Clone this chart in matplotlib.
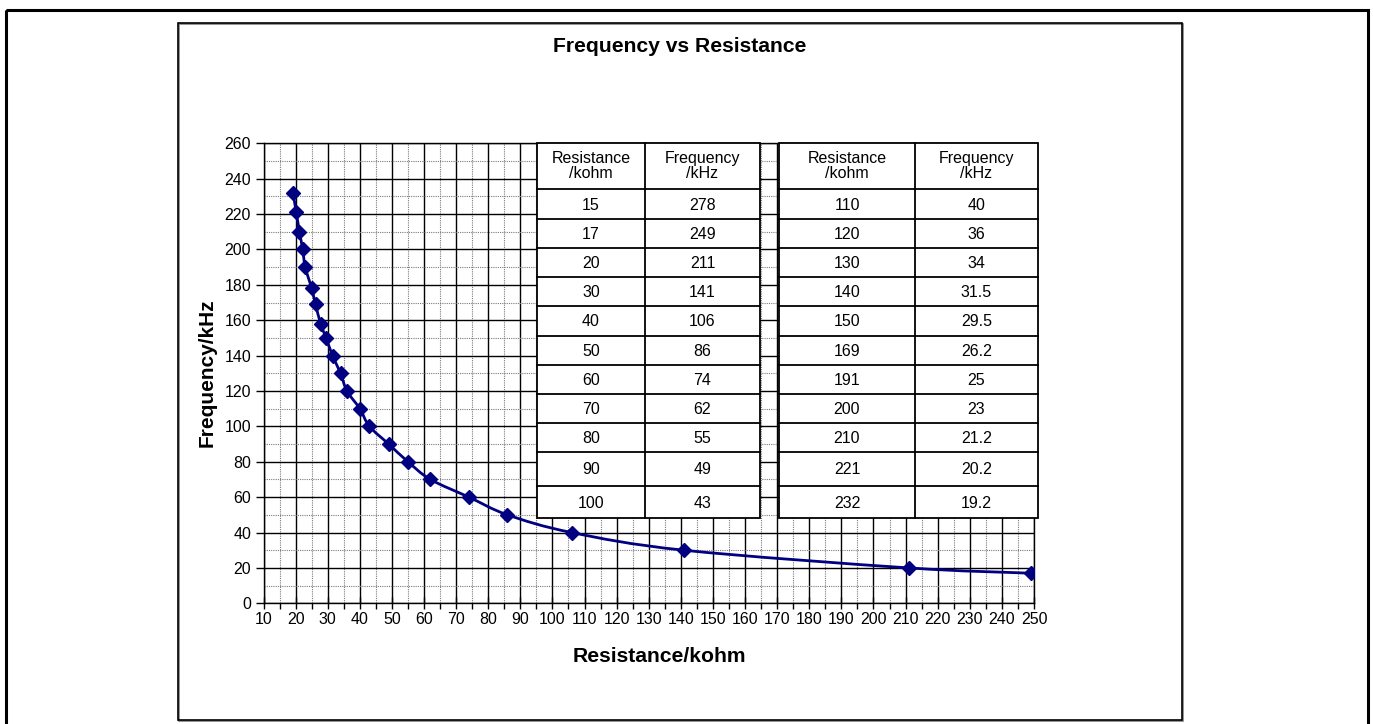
"""
Frequency vs Resistance chart with two data tables drawn over the plot.
"""
import matplotlib
matplotlib.use('Agg')
import matplotlib.pyplot as plt
import matplotlib.patches as mpatches
from matplotlib.path import Path
import numpy as np

plt.rcParams['font.family'] = ['Liberation Sans', 'DejaVu Sans']

# -- colours / canvas ------------------------------------------------------
W, H = 1373, 724
NAVY = '#000080'

# -- plotted series --------------------------------------------------------
freq_pts = [19.2, 20.2, 21.2, 22.2, 23, 25, 26.2, 27.8, 29.5, 31.5, 34, 36,
            40, 43, 49, 55, 62, 74, 86, 106, 141, 211, 249, 278]
res_pts = [232, 221, 210, 200, 190, 178, 169, 158, 150, 140, 130, 120,
           110, 100, 90, 80, 70, 60, 50, 40, 30, 20, 17, 15]

# -- table contents --------------------------------------------------------
tab_headers = ['Resistance\n/kohm', 'Frequency\n/kHz']
tab1_res = ['15', '17', '20', '30', '40', '50', '60', '70', '80', '90', '100']
tab1_freq = ['278', '249', '211', '141', '106', '86', '74', '62', '55', '49', '43']
tab2_res = ['110', '120', '130', '140', '150', '169', '191', '200', '210', '221', '232']
tab2_freq = ['40', '36', '34', '31.5', '29.5', '26.2', '25', '23', '21.2', '20.2', '19.2']

x_ticks = np.arange(10, 251, 10)
y_ticks = np.arange(0, 261, 20)


def smooth_path(xs, ys):
    """Catmull-Rom style bezier through the points (like a spreadsheet smooth line)."""
    p = np.column_stack([xs, ys]).astype(float)
    n = len(p)
    verts, codes = [p[0]], [Path.MOVETO]
    for i in range(n - 1):
        p0 = p[max(i - 1, 0)]
        p1, p2 = p[i], p[i + 1]
        p3 = p[min(i + 2, n - 1)]
        verts += [p1 + (p2 - p0) / 6, p2 - (p3 - p1) / 6, p2]
        codes += [Path.CURVE4] * 3
    return Path(verts, codes)


def draw_table(ov, x0, xm, x1, col_a, col_b):
    edges = [143, 189, 219, 248, 277, 306, 336, 365, 394, 423, 452, 486, 518]
    ov.add_patch(mpatches.Rectangle((x0, edges[0]), x1 - x0, edges[-1] - edges[0],
                                    facecolor='white', edgecolor='black', lw=1.3))
    for y in edges[1:-1]:
        ov.plot([x0, x1], [y, y], color='black', lw=1.3)
    ov.plot([xm, xm], [edges[0], edges[-1]], color='black', lw=1.3)
    ca, cb = (x0 + xm) / 2, (xm + x1) / 2
    yh = (edges[0] + edges[1]) / 2
    ov.text(ca, yh, tab_headers[0], ha='center', va='center', fontsize=11.5, linespacing=0.95)
    ov.text(cb, yh, tab_headers[1], ha='center', va='center', fontsize=11.5, linespacing=0.95)
    for i, (a, b) in enumerate(zip(col_a, col_b)):
        yc = (edges[i + 1] + edges[i + 2]) / 2 + 1
        ov.text(ca, yc, a, ha='center', va='center', fontsize=11.5)
        ov.text(cb, yc, b, ha='center', va='center', fontsize=11.5)


def main():
    fig = plt.figure(figsize=(W / 100, H / 100), dpi=100)
    fig.patch.set_facecolor('white')

    # plot area in pixel terms: x 263.5..1034, y 143.3..603.3
    ax = fig.add_axes([263.5 / W, 1 - 603.3 / H, (1034 - 263.5) / W, (603.3 - 143.3) / H])
    ax.set_xlim(10, 250)
    ax.set_ylim(0, 260)
    ax.set_xticks(x_ticks)
    ax.set_xticks(np.arange(15, 250, 10), minor=True)
    ax.set_yticks(y_ticks)
    ax.set_yticks(np.arange(10, 260, 20), minor=True)
    ax.grid(which='major', color='black', lw=1.0)
    ax.grid(which='minor', color='#7a7a7a', lw=0.8, ls=(0, (1, 1)))
    ax.set_axisbelow(True)
    ax.tick_params(axis='x', which='major', direction='inout', length=9, width=1,
                   labelsize=11.5, pad=2)
    ax.tick_params(axis='x', which='minor', direction='out', length=4, width=1)
    ax.tick_params(axis='y', which='major', direction='out', length=6, width=1,
                   labelsize=11.5, pad=3)
    ax.tick_params(axis='y', which='minor', length=0)
    for s in ax.spines.values():
        s.set_linewidth(1.0)
        s.set_color('black')

    ax.add_patch(mpatches.PathPatch(smooth_path(freq_pts, res_pts), fill=False,
                                    edgecolor=NAVY, lw=2, zorder=3))
    ax.plot(freq_pts, res_pts, 'D', ms=7, color=NAVY, zorder=4)

    # overlay in pixel coordinates for frames, tables and labels
    ov = fig.add_axes([0, 0, 1, 1], zorder=5)
    ov.set_xlim(0, W)
    ov.set_ylim(H, 0)
    ov.axis('off')
    ov.patch.set_alpha(0)

    ov.add_patch(mpatches.Rectangle((6, 10), 1362, 730, fill=False, edgecolor='black', lw=2.2))
    ov.add_patch(mpatches.Rectangle((179, 24), 1004, 697, fill=False, edgecolor='#808080', lw=1.2))
    ov.add_patch(mpatches.Rectangle((178, 23), 1004, 697, fill=False, edgecolor='black', lw=1.2))

    draw_table(ov, 537, 645, 760, tab1_res, tab1_freq)
    draw_table(ov, 779, 915, 1038, tab2_res, tab2_freq)

    ov.text(680, 47, 'Frequency vs Resistance', ha='center', va='center',
            fontsize=15.2, fontweight='bold')
    ov.text(659, 656, 'Resistance/kohm', ha='center', va='center',
            fontsize=15.2, fontweight='bold')
    ov.text(207, 373, 'Frequency/kHz', ha='center', va='center', rotation=90,
            fontsize=15, fontweight='bold')

    fig.savefig('out.png', dpi=100, facecolor='white')
    plt.close(fig)


if __name__ == '__main__':
    main()
